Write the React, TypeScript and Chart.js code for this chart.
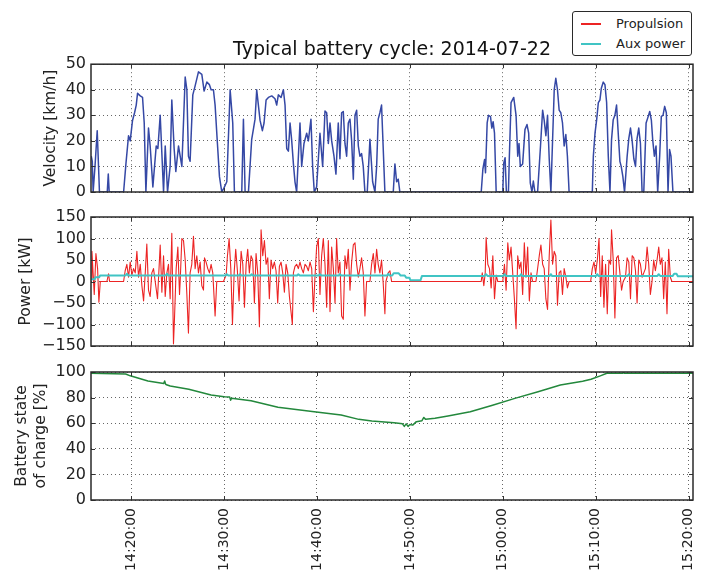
import React, { useEffect, useRef } from "react";
import { Chart, registerables } from "chart.js";

Chart.register(...registerables);
Chart.defaults.font.family = "'DejaVu Sans', sans-serif";
Chart.defaults.color = "#222";

const TITLE = "Typical battery cycle: 2014-07-22";
// time is expressed in minutes after 14:00:00
const X_MIN = 15.67;
const X_MAX = 80.48;
const X_TICKS = [20, 30, 40, 50, 60, 70, 80];
const VEL_TICKS = [0, 10, 20, 30, 40, 50];
const POW_TICKS = [-150, -100, -50, 0, 50, 100, 150];
const SOC_TICKS = [0, 20, 40, 60, 80, 100];

const velT = [15.70, 15.81, 15.90, 16.10, 16.34, 16.50, 16.58, 17.42, 17.53, 17.63, 19.18, 19.43, 19.71, 19.89, 20.14, 20.36, 20.54, 20.68, 20.97, 21.22, 21.40, 21.58, 21.86, 22.04, 22.33, 22.69, 22.87, 23.12, 23.30, 23.48, 23.66, 23.91, 24.19, 24.37, 24.62, 24.80, 25.09, 25.27, 25.45, 25.81, 25.99, 26.16, 26.34, 26.63, 26.88, 27.24, 27.60, 27.85, 28.14, 28.42, 28.60, 28.85, 29.03, 29.28, 29.50, 29.75, 30.00, 30.29, 30.65, 30.93, 31.11, 31.90, 32.08, 32.26, 32.62, 32.97, 33.15, 33.33, 33.51, 33.69, 33.87, 34.12, 34.30, 34.52, 34.77, 35.13, 35.48, 35.66, 35.84, 36.13, 36.38, 36.56, 36.74, 36.92, 37.10, 37.28, 37.46, 37.63, 37.81, 38.17, 38.35, 38.60, 38.89, 39.07, 39.35, 39.53, 39.71, 39.96, 40.32, 40.61, 40.86, 41.04, 41.22, 41.40, 41.58, 41.83, 42.04, 42.29, 42.47, 42.65, 42.83, 43.01, 43.19, 43.37, 43.55, 43.73, 43.91, 44.09, 44.27, 44.45, 44.62, 44.80, 44.98, 45.16, 45.41, 45.70, 45.99, 46.24, 46.42, 46.59, 46.77, 46.95, 47.13, 47.31, 48.21, 48.39, 48.57, 48.75, 48.92, 57.68, 57.86, 58.04, 58.14, 58.32, 58.46, 58.68, 58.82, 58.96, 59.11, 59.29, 60.00, 60.11, 60.25, 60.39, 60.61, 60.71, 60.89, 61.18, 61.43, 61.61, 61.75, 61.89, 62.14, 62.39, 62.61, 62.79, 62.96, 63.14, 63.29, 63.46, 63.75, 64.04, 64.29, 64.46, 64.64, 64.82, 65.00, 65.18, 65.36, 65.54, 65.71, 65.89, 66.07, 66.25, 66.43, 66.61, 66.79, 66.96, 67.14, 69.64, 69.75, 69.93, 70.11, 70.29, 70.46, 70.61, 70.82, 71.00, 71.18, 71.36, 71.54, 71.71, 71.89, 72.07, 72.25, 72.43, 72.61, 72.75, 72.93, 73.11, 73.39, 73.57, 73.75, 73.93, 74.11, 74.29, 74.46, 74.64, 74.82, 75.00, 75.18, 75.43, 75.61, 75.82, 76.00, 76.14, 76.32, 76.50, 76.68, 76.89, 77.07, 77.25, 77.43, 77.61, 77.79, 77.96, 78.11, 78.32, 80.48];
const velV = [14, 12, 0, 10, 24, 8, 0, 0, 7, 0, 0, 11, 22, 20, 28, 31, 34, 38.6, 37.6, 37, 27, 0, 25, 18, 2, 18, 17, 30, 15, 0, 18, 0, 10, 36, 17, 8, 18, 14, 10, 45, 40, 14, 12, 38, 41.5, 47, 46, 39.5, 43, 42, 40, 40, 34, 19, 6, 0, 1.7, 4, 40, 27, 0, 0, 28.5, 0, 0, 20.6, 24.5, 28.5, 40, 34, 28, 24, 27, 36, 37, 37.6, 36.5, 34, 38, 37, 40, 34, 17, 16, 27, 20, 11, 4, 0, 27, 10, 19, 23, 20, 28.5, 10, 0, 2, 23, 10, 31.7, 31, 19, 27, 20, 14, 7, 27, 13, 31, 31.5, 19, 14, 27, 28.5, 20, 5, 30, 32, 18, 14, 15, 10, 0, 0, 20.6, 4, 0, 10, 28.5, 31, 34, 17, 0, 0, 11, 4, 5, 0, 0, 9, 12.7, 7.5, 27, 30, 29.5, 25, 27.5, 23, 0, 0, 11.4, 13.4, 0, 0, 14, 35, 37, 30, 14, 19, 10, 11, 24.4, 26.4, 23, 3.6, 0, 4.3, 0, 0, 16.6, 32, 28, 22, 30, 13, 0, 20, 40, 44.5, 40, 32, 31, 27, 18, 22.5, 14, 0, 0, 14, 23, 28.3, 35, 36, 40.6, 43, 42, 35, 14, 0, 20.5, 28.3, 30, 34, 23, 12, 10, 6, 0, 14, 21, 25, 20, 13, 10, 21, 25, 19, 0, 0, 27, 29, 31.5, 28, 20.5, 14, 18, 0, 14, 29.6, 30, 33.5, 31, 0, 16.6, 14, 0, 0];

const propT = [15.70, 15.77, 16.02, 16.20, 16.38, 16.52, 16.67, 17.38, 17.56, 17.67, 19.18, 19.35, 19.53, 19.71, 19.89, 20.07, 20.25, 20.43, 20.61, 20.79, 20.97, 21.15, 21.33, 21.51, 21.68, 21.86, 22.04, 22.22, 22.40, 22.58, 22.83, 23.12, 23.30, 23.48, 23.66, 23.84, 24.01, 24.19, 24.37, 24.55, 24.66, 24.84, 25.02, 25.20, 25.27, 25.45, 25.63, 25.81, 25.99, 26.16, 26.34, 26.52, 26.70, 26.88, 27.06, 27.24, 27.42, 27.60, 27.78, 27.89, 28.06, 28.24, 28.42, 28.60, 28.78, 29.03, 29.21, 29.93, 30.22, 30.36, 30.54, 30.72, 30.90, 31.08, 31.25, 31.43, 31.61, 31.83, 32.01, 32.19, 32.37, 32.54, 32.72, 32.90, 33.08, 33.26, 33.44, 33.62, 33.80, 33.98, 34.16, 34.34, 34.52, 34.70, 34.87, 35.05, 35.23, 35.41, 35.59, 35.77, 35.95, 36.13, 36.31, 36.49, 36.67, 36.85, 37.03, 37.35, 37.46, 37.63, 37.81, 37.99, 38.17, 38.35, 38.53, 38.71, 38.89, 39.07, 39.25, 39.43, 39.61, 39.78, 39.96, 40.14, 40.32, 40.50, 40.68, 40.86, 41.04, 41.22, 41.40, 41.58, 41.76, 41.94, 42.11, 42.29, 42.47, 42.65, 42.83, 43.01, 43.19, 43.37, 43.55, 43.73, 43.91, 44.09, 44.27, 44.45, 44.62, 44.80, 44.98, 45.16, 45.34, 45.70, 45.88, 46.06, 46.24, 46.42, 46.59, 46.77, 46.95, 47.13, 47.31, 47.42, 47.67, 47.85, 48.03, 57.68, 57.79, 57.96, 58.11, 58.21, 58.39, 58.57, 58.75, 58.93, 59.11, 59.29, 59.46, 60.00, 60.18, 60.36, 60.54, 60.71, 60.89, 61.07, 61.25, 61.43, 61.61, 61.79, 61.96, 62.14, 62.32, 62.50, 62.68, 62.86, 63.04, 63.21, 63.57, 63.93, 64.11, 64.29, 64.46, 64.64, 64.82, 65.00, 65.18, 65.36, 65.54, 65.71, 65.89, 66.07, 66.25, 66.43, 66.61, 66.79, 66.96, 67.14, 69.46, 69.64, 69.82, 70.00, 70.18, 70.36, 70.54, 70.71, 70.89, 71.07, 71.25, 71.43, 71.61, 71.71, 71.89, 72.07, 72.25, 72.43, 72.61, 72.79, 72.96, 73.21, 73.39, 73.57, 73.75, 73.93, 74.11, 74.29, 74.46, 74.64, 74.82, 75.00, 75.18, 75.36, 75.54, 75.71, 75.89, 76.07, 76.25, 76.43, 76.61, 76.79, 76.96, 77.14, 77.32, 77.50, 77.68, 77.86, 78.04, 78.21, 80.48];
const propV = [5, 70, -30, 65, 30, -48, 0, 0, 18, 0, 0, 25, 40, 10, 45, 15, 30, 20, 70, 10, 40, -10, -45, 20, 87, -20, -35, 20, 30, 0, -40, 85, -25, 60, -35, 20, 40, -40, 112, -145, -85, 30, 80, -30, 0, 100, 95, 50, -30, -120, 20, 40, 105, 30, 60, 20, 45, -10, -20, 55, 45, 30, 20, 40, 20, -80, 0, 0, 15, 60, 100, 30, -100, 20, 75, 25, -45, 70, 40, -60, 40, 75, 20, 60, 50, -50, 65, 20, -105, 120, 60, 95, 40, 55, -40, 50, 30, 45, 25, -50, 35, 45, 20, -25, 40, 20, -35, -100, 20, 35, 40, 30, 45, 30, 20, 40, 35, 25, 45, 30, -70, 10, 80, 100, -30, 60, 100, 40, -60, 95, -70, 80, 30, -50, 100, 20, 45, -80, -88, 60, 30, 75, -20, 45, 85, 90, 40, 10, 30, 55, 20, -80, 0, 0, 40, 65, 20, 75, 40, 20, 50, -5, -75, 0, 20, 25, 0, 0, 20, -10, 20, 102, 40, 30, -15, 60, -40, 15, 0, 0, 40, -20, 90, 50, 80, 20, -40, -110, 60, 30, 45, -30, 90, 10, 80, -45, 20, 0, 0, 60, 85, 40, 30, -40, -65, 60, 143, 40, 70, 60, -55, 20, 25, -30, 30, 10, -15, 0, 0, 30, 45, 20, 50, 100, -35, 60, -60, 40, -75, 50, 40, 120, 50, -85, 55, 60, 20, -20, 0, 10, 55, 45, -40, 60, 55, 25, -50, 50, 40, 10, 20, 30, 80, 40, -30, 0, 50, 25, 50, 80, 40, 55, -40, 45, -75, 75, 10, 0, 0];

const auxT = [15.67, 16.05, 16.15, 16.55, 16.65, 19.40, 19.53, 19.70, 23.70, 23.84, 24.00, 30.15, 30.29, 30.45, 31.60, 31.72, 31.85, 32.85, 32.97, 33.10, 37.85, 37.99, 38.15, 40.20, 40.32, 40.45, 42.35, 42.47, 42.60, 47.55, 47.67, 47.80, 48.10, 48.25, 48.80, 49.00, 49.45, 49.60, 49.95, 50.05, 51.15, 51.30, 58.05, 58.20, 58.35, 60.05, 60.20, 60.35, 61.85, 61.96, 62.10, 65.05, 65.18, 65.30, 70.05, 70.18, 70.30, 73.45, 73.57, 73.70, 76.65, 76.79, 76.95, 78.30, 78.45, 78.70, 78.85, 80.48];
const auxV = [5, 5, 10, 10, 14, 14, 18, 14, 14, 18, 14, 14, 17, 14, 14, 17, 14, 14, 17, 14, 14, 17, 14, 14, 17, 14, 14, 17, 14, 14, 18, 14, 14, 19, 19, 14, 14, 9, 9, 3, 3, 13, 13, 17, 13, 13, 17, 13, 13, 17, 13, 13, 17, 13, 13, 17, 13, 13, 17, 13, 13, 17, 13, 13, 18, 18, 12, 12];

const socT = [15.67, 19.4, 19.9, 21.8, 23.5, 23.6, 23.7, 23.8, 24.2, 26.2, 28.6, 30.0, 30.6, 30.7, 30.8, 32.9, 35.8, 39.7, 42.6, 44.5, 45.9, 48.3, 49.2, 49.4, 49.6, 49.8, 50.0, 50.3, 50.7, 51.3, 51.5, 51.7, 52.7, 54.1, 56.5, 58.9, 61.3, 63.8, 66.2, 68.6, 69.5, 70.5, 71.2, 72.9, 73.0, 73.1, 80.48];
const socV = [99, 98.4, 97, 93, 91, 93, 90.5, 90, 89, 86.5, 82, 80.7, 80.5, 78, 79.5, 77.6, 72.4, 69, 66.4, 63, 61.7, 60.4, 59.5, 57.5, 59.5, 57.5, 59, 58.5, 61.2, 62, 64.5, 63, 63.8, 65.6, 69, 74, 79.4, 84.6, 89.8, 92.7, 94.3, 97, 99, 99, 100, 99, 99];

const pts = (t: number[], v: number[]) => t.map((x, i) => ({ x, y: v[i] }));

const fmtTime = (m: number) => {
  const tot = Math.round((14 * 60 + m) * 60);
  const p = (n: number) => String(n).padStart(2, "0");
  return `${p(Math.floor(tot / 3600))}:${p(Math.floor((tot % 3600) / 60))}:${p(tot % 60)}`;
};

const RED = "#ec2424";
const CYAN = "#40c4c4";

const framePlugin = {
  id: "frame",
  afterDatasetsDraw(chart: any) {
    const { ctx, chartArea: a, scales } = chart;
    ctx.save();
    ctx.strokeStyle = "#333";
    ctx.lineWidth = 1;
    ctx.beginPath();
    for (const t of X_TICKS) {
      const x = Math.round(scales.x.getPixelForValue(t)) + 0.5;
      ctx.moveTo(x, a.bottom);
      ctx.lineTo(x, a.bottom - 4);
      ctx.moveTo(x, a.top);
      ctx.lineTo(x, a.top + 4);
    }
    for (const tk of scales.y.ticks) {
      const y = Math.round(scales.y.getPixelForValue(tk.value)) + 0.5;
      ctx.moveTo(a.left, y);
      ctx.lineTo(a.left + 4, y);
      ctx.moveTo(a.right, y);
      ctx.lineTo(a.right - 4, y);
    }
    ctx.stroke();
    ctx.lineWidth = 1.5;
    ctx.strokeStyle = "#2a2a2a";
    ctx.strokeRect(a.left, a.top, a.right - a.left, a.bottom - a.top);
    ctx.restore();
  },
};

type PanelOpts = {
  datasets: any[];
  yMin: number;
  yMax: number;
  yTicks: number[];
  yTitle: string | string[];
  titleOffset: number;
  padTop: number;
  padBottom: number;
  xLabels: boolean;
  xHeight: number;
  title?: string;
};

function panelConfig(p: PanelOpts): any {
  return {
    type: "line",
    data: { datasets: p.datasets },
    options: {
      animation: false,
      responsive: false,
      layout: { padding: { left: 0, right: 9, top: p.padTop, bottom: p.padBottom } },
      plugins: {
        legend: { display: false },
        tooltip: { enabled: false },
        title: p.title
          ? {
              display: true,
              text: p.title,
              fullSize: false,
              color: "#111",
              font: { size: 19, weight: "normal" },
              padding: { top: 0, bottom: 3 },
            }
          : { display: false },
      },
      elements: { point: { radius: 0 }, line: { tension: 0, borderJoinStyle: "round" } },
      scales: {
        x: {
          type: "linear",
          min: X_MIN,
          max: X_MAX,
          afterBuildTicks: (s: any) => {
            s.ticks = X_TICKS.map((v) => ({ value: v }));
          },
          afterFit: (s: any) => {
            s.height = p.xHeight;
            s.paddingLeft = 0;
            s.paddingRight = 0;
          },
          grid: { color: "#666", lineWidth: 1, drawTicks: false },
          border: { display: false, dash: [1, 3] },
          ticks: {
            display: p.xLabels,
            autoSkip: false,
            minRotation: 90,
            maxRotation: 90,
            padding: 8,
            color: "#222",
            font: { size: 14 },
            callback: (v: any) => fmtTime(Number(v)),
          },
        },
        y: {
          min: p.yMin,
          max: p.yMax,
          afterBuildTicks: (s: any) => {
            s.ticks = p.yTicks.map((v) => ({ value: v }));
          },
          afterFit: (s: any) => {
            s.width = 91;
            s.paddingTop = 0;
            s.paddingBottom = 0;
          },
          grid: { color: "#666", lineWidth: 1, drawTicks: false },
          border: { display: false, dash: [1, 3] },
          ticks: {
            autoSkip: false,
            padding: 5,
            color: "#222",
            font: { size: 16 },
            callback: (v: any) => (Number(v) < 0 ? "\u2212" + Math.abs(Number(v)) : String(v)),
          },
          title: {
            display: true,
            text: p.yTitle,
            color: "#222",
            font: { size: 15.5 },
            padding: { top: p.titleOffset, bottom: 0 },
          },
        },
      },
    },
    plugins: [framePlugin],
  };
}

export default function App() {
  const r1 = useRef<HTMLCanvasElement>(null);
  const r2 = useRef<HTMLCanvasElement>(null);
  const r3 = useRef<HTMLCanvasElement>(null);

  useEffect(() => {
    const c1 = new Chart(
      r1.current!,
      panelConfig({
        datasets: [
          { label: "Velocity", data: pts(velT, velV), borderColor: "#3548a5", borderWidth: 1.5 },
        ],
        yMin: 0,
        yMax: 50,
        yTicks: VEL_TICKS,
        yTitle: "Velocity [km/h]",
        titleOffset: 42,
        padTop: 38.4,
        padBottom: 13,
        xLabels: false,
        xHeight: 0,
        title: TITLE,
      })
    );
    const c2 = new Chart(
      r2.current!,
      panelConfig({
        datasets: [
          { label: "Aux power", data: pts(auxT, auxV), borderColor: CYAN, borderWidth: 2 },
          { label: "Propulsion", data: pts(propT, propV), borderColor: RED, borderWidth: 1.1 },
        ],
        yMin: -150,
        yMax: 150,
        yTicks: POW_TICKS,
        yTitle: "Power [kW]",
        titleOffset: 17,
        padTop: 17,
        padBottom: 14,
        xLabels: false,
        xHeight: 0,
      })
    );
    const c3 = new Chart(
      r3.current!,
      panelConfig({
        datasets: [
          { label: "Battery state of charge", data: pts(socT, socV), borderColor: "#23883c", borderWidth: 1.5 },
        ],
        yMin: 0,
        yMax: 100,
        yTicks: SOC_TICKS,
        yTitle: ["Battery state", "of charge [%]"],
        titleOffset: 13,
        padTop: 17,
        padBottom: 0,
        xLabels: true,
        xHeight: 74,
      })
    );
    return () => {
      c1.destroy();
      c2.destroy();
      c3.destroy();
    };
  }, []);

  const legendRow = (color: string, label: string, top: number) => (
    <div style={{ position: "absolute", left: 0, top, height: 16, width: "100%" }}>
      <div style={{ position: "absolute", left: 8, top: 7, width: 20, height: 2, background: color }} />
      <span style={{ position: "absolute", left: 43, top: 0, fontSize: 13, lineHeight: "16px", color: "#222", whiteSpace: "nowrap" }}>
        {label}
      </span>
    </div>
  );

  return (
    <div
      style={{
        position: "fixed",
        left: 0,
        top: 0,
        width: 702,
        height: 574,
        background: "#fff",
        fontFamily: "'DejaVu Sans', sans-serif",
        overflow: "hidden",
      }}
    >
      <canvas ref={r1} width={702} height={205} style={{ position: "absolute", left: 0, top: 0 }} />
      <canvas ref={r2} width={702} height={160} style={{ position: "absolute", left: 0, top: 200 }} />
      <canvas ref={r3} width={702} height={219} style={{ position: "absolute", left: 0, top: 355 }} />
      <div
        style={{
          position: "absolute",
          left: 572,
          top: 11,
          width: 118,
          height: 43,
          border: "1.5px solid #2a2a2a",
          borderRadius: 3,
          background: "#fff",
        }}
      >
        {legendRow(RED, "Propulsion", 4)}
        {legendRow(CYAN, "Aux power", 24)}
      </div>
    </div>
  );
}
